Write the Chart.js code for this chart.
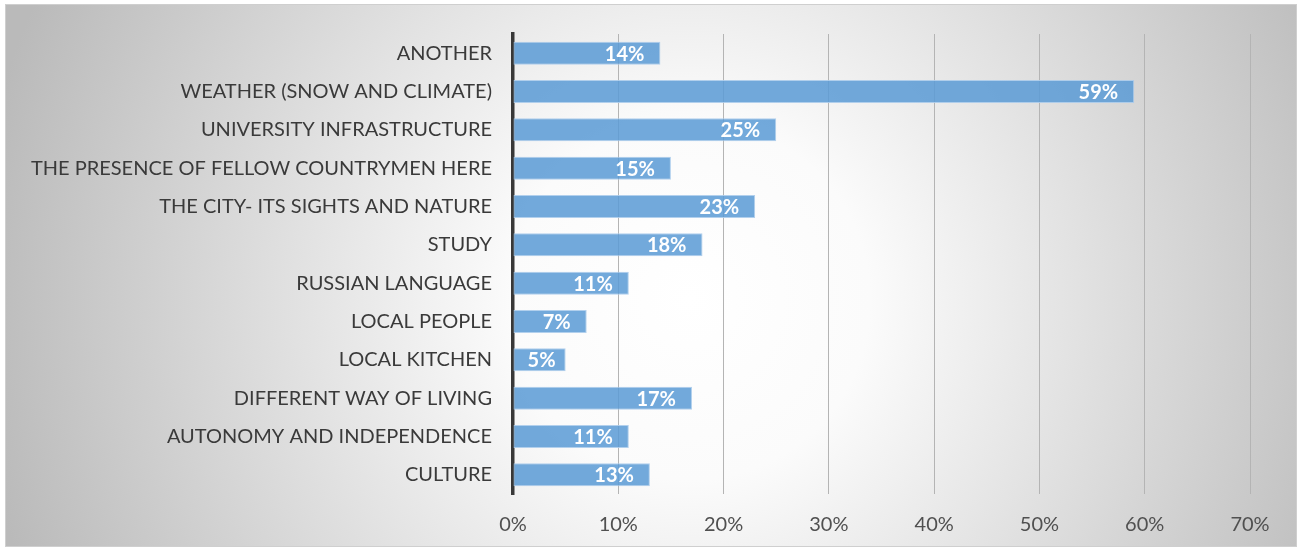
<!DOCTYPE html>
<html>
<head>
<meta charset="utf-8">
<script src="https://cdn.jsdelivr.net/npm/chart.js@4/dist/chart.umd.min.js"></script>
<style>
  html, body { margin: 0; padding: 0; background: #fff; }
  #wrap { width: 1301px; height: 551px; }
</style>
</head>
<body>
<div id="wrap"><canvas id="myChart" width="1301" height="551"></canvas></div>
<script>
const categories = [
  'ANOTHER',
  'WEATHER (SNOW AND CLIMATE)',
  'UNIVERSITY INFRASTRUCTURE',
  'THE PRESENCE OF FELLOW COUNTRYMEN HERE',
  'THE CITY- ITS SIGHTS AND NATURE',
  'STUDY',
  'RUSSIAN LANGUAGE',
  'LOCAL PEOPLE',
  'LOCAL KITCHEN',
  'DIFFERENT WAY OF LIVING',
  'AUTONOMY AND INDEPENDENCE',
  'CULTURE'
];
const shares = [14, 59, 25, 15, 23, 18, 11, 7, 5, 17, 11, 13];
const xTicks = [0, 10, 20, 30, 40, 50, 60, 70];

// frame + radial grey background, like the office chart area
const backdrop = {
  id: 'backdrop',
  beforeDraw(chart) {
    const c = chart.ctx;
    c.save();
    c.fillStyle = '#fff';
    c.fillRect(0, 0, chart.width, chart.height);
    const g = c.createRadialGradient(690, 300, 0, 690, 300, 720);
    g.addColorStop(0, '#ffffff');
    g.addColorStop(0.25, '#fbfbfb');
    g.addColorStop(1, '#bababa');
    c.fillStyle = g;
    c.fillRect(5.5, 4.5, 1291, 542);
    c.strokeStyle = '#cfcfcf';
    c.lineWidth = 1;
    c.strokeRect(5.5, 4.5, 1291, 542);
    c.restore();
  }
};

// value labels at the inside end of each bar
const barLabels = {
  id: 'barLabels',
  afterDatasetsDraw(chart) {
    const c = chart.ctx;
    const meta = chart.getDatasetMeta(0);
    c.save();
    c.font = 'bold 20px Lato';
    c.fillStyle = '#ffffff';
    c.textBaseline = 'middle';
    c.textAlign = 'left';
    meta.data.forEach((bar, i) => {
      const txt = shares[i] + '%';
      const w = c.measureText(txt).width;
      let x = bar.x - 16 - w;
      if (x < bar.base + 14) x = (bar.base + bar.x) / 2 - w / 2 + 2;
      c.fillText(txt, x, bar.y + 1);
    });
    c.restore();
  }
};

new Chart(document.getElementById('myChart'), {
  type: 'bar',
  data: {
    labels: categories,
    datasets: [{
      data: shares,
      backgroundColor: 'rgba(91,155,213,0.86)',
      borderColor: 'rgba(170,203,235,0.9)',
      borderWidth: 1,
      borderSkipped: false,
      categoryPercentage: 1,
      barPercentage: 0.6
    }]
  },
  options: {
    indexAxis: 'y',
    responsive: false,
    animation: false,
    layout: { padding: { left: 5, right: 51, top: 34, bottom: 4 } },
    plugins: {
      legend: { display: false },
      tooltip: { enabled: false }
    },
    scales: {
      x: {
        min: 0,
        max: 70,
        afterBuildTicks(scale) {
          scale.ticks = xTicks.map(v => ({ value: v }));
        },
        afterFit(scale) { scale.height = 53; },
        ticks: {
          color: '#505050',
          font: { family: 'Lato', size: 20 },
          padding: 19,
          callback: v => v + '%'
        },
        grid: { color: '#b4b4b4', lineWidth: 1, drawTicks: false },
        border: { display: false }
      },
      y: {
        afterFit(scale) { scale.width = 508; },
        ticks: {
          color: '#3a3a3a',
          font: { family: 'Lato', size: 20 },
          padding: 21
        },
        grid: { display: false, drawTicks: false },
        border: { color: '#383838', width: 3.5 }
      }
    }
  },
  plugins: [backdrop, barLabels]
});
</script>
</body>
</html>
